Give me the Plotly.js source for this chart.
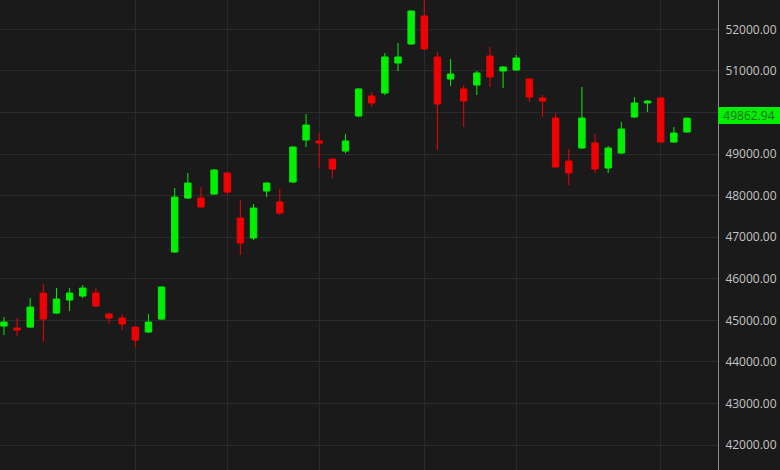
<!DOCTYPE html>
<html>
<head>
<meta charset="utf-8">
<script src="https://cdn.plot.ly/plotly-3.0.1.min.js"></script>
<style>
html,body{margin:0;padding:0;background:#1a1a1a;}
#chart{width:780px;height:470px;}
</style>
</head>
<body>
<div id="chart"></div>
<script>
const openP  = [44861,44813,44837,45655,45174,45487,45583,45655,45150,45054,44837,44717,45030,46642,47941,47941,48037,48543,47460,46979,48110,47845,48326,49337,49313,48879,49072,49914,50395,50467,51189,51646,52320,51334,50804,50564,50660,51358,50997,51021,50804,50347,49866,48831,49144,49265,48663,49024,49890,50227,50347,49288,49529];
const highP  = [45078,45054,45535,45872,45776,45776,45848,45776,45174,45150,44850,45150,45820,48182,48543,48206,48640,48560,47893,47797,48320,48158,49192,49962,49505,48890,49481,50590,50491,51430,51670,52460,52700,51454,51285,50660,50997,51574,51117,51382,50820,50419,49986,49120,50612,49481,49192,49770,50371,50290,50371,49649,49880];
const lowP   = [44645,44621,44813,44476,45150,45222,45535,45320,44910,44765,44356,44693,45010,46618,47920,47710,48020,48013,46570,46931,47965,47532,48302,49168,48663,48422,49024,49890,50131,50419,50997,51630,51510,49096,50636,49649,50419,50612,50588,51000,50251,49890,48670,48254,49120,48543,48543,49000,49870,50010,49270,49270,49510];
const closeP = [44958,44765,45319,45030,45511,45655,45776,45343,45054,44910,44525,44958,45800,47965,48302,47725,48615,48085,46858,47701,48302,47580,49168,49697,49265,48639,49313,50564,50227,51334,51334,52440,51526,50203,50925,50275,50949,50852,51093,51310,50371,50275,48687,48543,49866,48639,49144,49601,50227,50275,49288,49505,49862.94];
const gridDays = [10,17,24,32,39,50];
const yTicks = [42000,43000,44000,45000,46000,47000,48000,49000,50000,51000,52000];
const lastPrice = 49862.94;

const days = openP.map((_, i) => i);
const GREEN = '#00f000', RED = '#f00000';

const trace = {
  type: 'candlestick',
  x: days, open: openP, high: highP, low: lowP, close: closeP,
  increasing: {line: {color: GREEN, width: 1}, fillcolor: GREEN},
  decreasing: {line: {color: RED, width: 1}, fillcolor: RED},
  whiskerwidth: 0,
  hoverinfo: 'none'
};

const layout = {
  width: 780, height: 470,
  paper_bgcolor: '#1a1a1a', plot_bgcolor: '#1a1a1a',
  margin: {l: 0, r: 62, t: 0, b: 0},
  showlegend: false,
  font: {family: 'Open Sans, sans-serif', color: '#bdbdbd', size: 12},
  xaxis: {
    type: 'linear', range: [-0.3, 54.36],
    rangeslider: {visible: false},
    tickmode: 'array', tickvals: gridDays, showticklabels: false,
    showgrid: true, gridcolor: '#2b2b2b', gridwidth: 1,
    zeroline: false, showline: false, ticks: ''
  },
  yaxis: {
    side: 'right', range: [41399, 52705],
    tickmode: 'array', tickvals: yTicks,
    ticktext: yTicks.map(v => v.toFixed(2)),
    showgrid: true, gridcolor: '#2b2b2b', gridwidth: 1,
    zeroline: false, showline: true, linecolor: '#8a8a8a', linewidth: 1,
    ticks: 'outside', ticklen: 4, tickcolor: 'rgba(0,0,0,0)',
    tickfont: {size: 12, color: '#c4c4c4'}
  },
  annotations: [{
    xref: 'paper', yref: 'y', x: 1, y: lastPrice,
    xanchor: 'left', yanchor: 'middle',
    text: lastPrice.toFixed(2), showarrow: false,
    bgcolor: GREEN, bordercolor: GREEN, borderpad: 0,
    width: 60, height: 15, align: 'center',
    font: {size: 12, color: '#236b23', family: 'Open Sans, sans-serif'},
    xshift: 0, yshift: 3
  }]
};

Plotly.newPlot('chart', [trace], layout, {staticPlot: true, displayModeBar: false});
</script>
</body>
</html>
